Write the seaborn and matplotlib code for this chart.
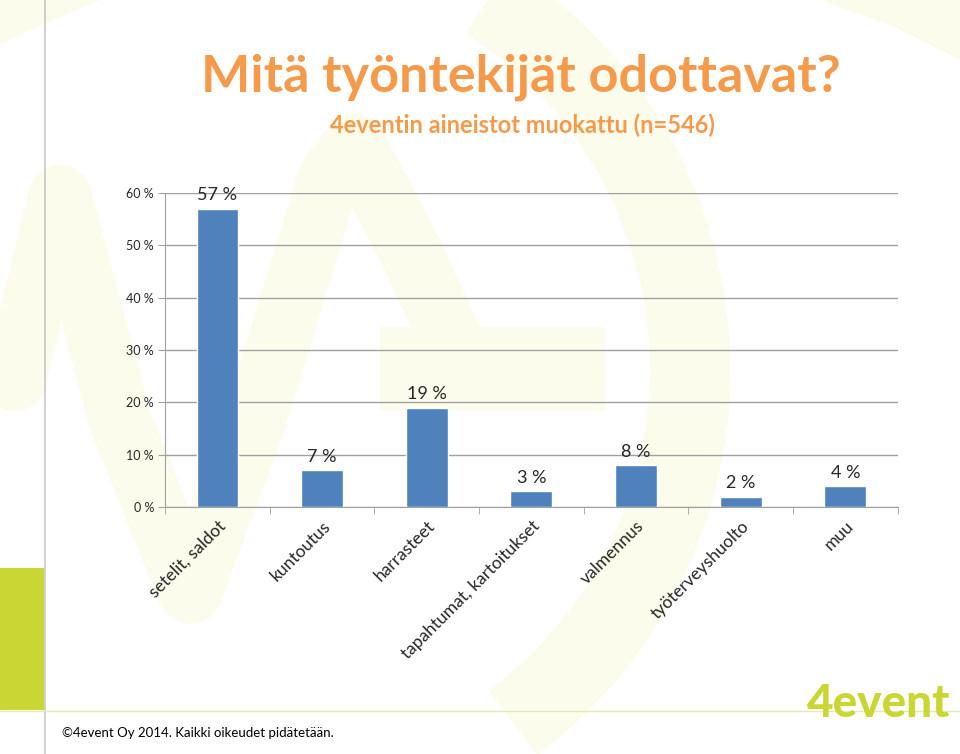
import numpy as np
import pandas as pd
import seaborn as sns
import matplotlib.pyplot as plt
import matplotlib.patches as patches

# --- Données ---
categories = ["setelit, saldot", "kuntoutus", "harrasteet", "tapahtumat, kartoitukset",
              "valmennus", "työterveyshuolto", "muu"]
values = [0.57, 0.07, 0.19, 0.03, 0.08, 0.02, 0.04]
value_labels = ["57 %", "7 %", "19 %", "3 %", "8 %", "2 %", "4 %"]
y_ticks = [0, 0.1, 0.2, 0.3, 0.4, 0.5, 0.6]
y_tick_labels = ["0 %", "10 %", "20 %", "30 %", "40 %", "50 %", "60 %"]

df = pd.DataFrame({"kategoria": categories, "osuus": values})

sns.set_style("white")
plt.rcParams["font.family"] = ["Lato", "DejaVu Sans"]

orange = "#F59A4B"
bar_blue = "#4F81BD"
lime = "#CAD633"
cream = "#FCFCEC"

fig = plt.figure(figsize=(9.6, 7.54), dpi=100)

# --- Fond de la diapo (logo pâle en filigrane) ---
bg = fig.add_axes([0, 0, 1, 1])
bg.set_xlim(0, 960)
bg.set_ylim(754, 0)
bg.axis("off")
# coins du haut
bg.add_patch(patches.Polygon([(0, 0), (100, 0), (30, 30), (0, 45)],
                             closed=True, facecolor=cream, edgecolor="none"))
bg.add_patch(patches.Polygon([(820, 0), (960, 0), (960, 60), (890, 25)],
                             closed=True, facecolor=cream, edgecolor="none"))
# vague du "4"
t = np.linspace(0, 1, 200)
wave_x = [15, 60, 120, 190, 255, 330, 355, 410, 470]
wave_y = [380, 195, 420, 595, 420, 175, 145, 250, 380]
tt = np.linspace(0, 1, len(wave_x))
bg.plot(np.interp(t, tt, wave_x), np.interp(t, tt, wave_y), color=cream,
        linewidth=45, solid_capstyle="round", solid_joinstyle="round")
bg.add_patch(patches.Rectangle((380, 327), 225, 84, facecolor=cream, edgecolor="none"))
# grand arc à droite
ang = np.linspace(-1.0, 0.93, 200)
bg.plot(250 + 440 * np.cos(ang), 370 + 440 * np.sin(ang), color=cream,
        linewidth=58, solid_capstyle="butt")
# bandeau vert et lignes
bg.add_patch(patches.Rectangle((0, 568), 44, 142, facecolor=lime, edgecolor="none"))
bg.plot([45, 45], [0, 754], color="#C8C8C8", linewidth=1.2)
bg.plot([0, 960], [711, 711], color="#E4EBB0", linewidth=1)

fig.text(0.542, 0.898, "Mitä työntekijät odottavat?", ha="center", va="center",
         fontsize=37.5, fontweight="bold", color=orange)
fig.text(0.544, 0.834, "4eventin aineistot muokattu (n=546)", ha="center", va="center",
         fontsize=17, fontweight="bold", color=orange)
fig.text(0.065, 0.028, "©4event Oy 2014. Kaikki oikeudet pidätetään.", ha="left", va="center",
         fontsize=9.5, color="black")
fig.text(0.99, 0.066, "4event", ha="right", va="center", fontsize=33,
         fontweight="black", color=lime)

# --- Graphique ---
ax = fig.add_axes([0.172, 0.3276, 0.763, 0.4164])
ax.patch.set_alpha(0)
sns.barplot(data=df, x="kategoria", y="osuus", color=bar_blue, width=0.4,
            saturation=1, ax=ax)
ax.set_xlim(-0.5, len(categories) - 0.5)
ax.set_ylim(0, 0.6)
ax.set_yticks(y_ticks)
ax.set_yticklabels(y_tick_labels, fontsize=9)
ax.yaxis.grid(True, color="#A0A0A0", linewidth=1)
ax.set_axisbelow(True)
for s in ["top", "right"]:
    ax.spines[s].set_visible(False)
for s in ["left", "bottom"]:
    ax.spines[s].set_color("#A0A0A0")
ax.tick_params(axis="y", length=5, color="#A0A0A0", left=True, pad=3)
ax.tick_params(axis="x", which="major", length=0, pad=8)
ax.set_xticks(np.arange(-0.5, len(categories)), minor=True)
ax.tick_params(axis="x", which="minor", length=5, color="#A0A0A0", bottom=True)
ax.set_xticklabels(categories, rotation=45, ha="right", rotation_mode="anchor", fontsize=12.5)
ax.set_xlabel("")
ax.set_ylabel("")

for i, (v, lab) in enumerate(zip(values, value_labels)):
    ax.annotate(lab, (i, v), xytext=(0, 4), textcoords="offset points",
                ha="center", va="bottom", fontsize=13)

fig.savefig("out.png", dpi=100)
